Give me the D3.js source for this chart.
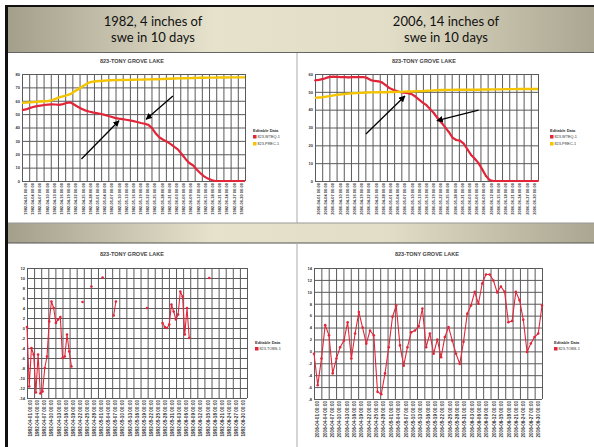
<!DOCTYPE html>
<html>
<head>
<meta charset="utf-8">
<script src="https://cdn.jsdelivr.net/npm/d3@7"></script>
<style>
body { margin: 0; background: #fff; }
svg { display: block; font-family: "Liberation Sans", Arial, sans-serif; }
</style>
</head>
<body>
<svg id="slide" width="594" height="447"></svg>
<script>
// ---- data ----
var headLeft = ["1982, 4 inches of", "swe in 10 days"];
var headRight = ["2006, 14 inches of", "swe in 10 days"];
var stationTitle = "823-TONY GROVE LAKE";
var legendTitle = "Editable Data";

// category labels (every 3 days)
var monthDays = ["04-01","04-04","04-07","04-10","04-13","04-16","04-19","04-22","04-25","04-28",
  "05-01","05-04","05-07","05-10","05-13","05-16","05-19","05-22","05-25","05-28","05-31",
  "06-03","06-06","06-09","06-12","06-15","06-18","06-21","06-24","06-27","06-30"];
var labels1982 = monthDays.map(function(d){ return "1982-" + d + " 00:00"; });
var labels2006 = monthDays.map(function(d){ return "2006-" + d + " 00:00"; });

var wteq1982 = [53, 53.5, 54.5, 55.3, 56, 56.4, 56.8, 57.1, 57.3, 57.2,
  56.9, 57.5, 58.3, 58.8, 57.2, 55.5, 54, 52.8, 52, 51.3,
  50.8, 50.3, 49.6, 48.8, 48, 47.2, 46.6, 46.2, 45.8, 45.3,
  44.8, 44.1, 43.4, 42.8, 42, 39.5, 35.5, 32.5, 30.8, 29.4,
  27.6, 25.5, 23.5, 20, 16.5, 13.5, 11.8, 8.6, 5.8, 3.5,
  1.8, 0.7, 0, 0, 0, 0, 0, 0, 0, 0, 0];
var prec1982 = [58.5, 58.6, 58.8, 59, 59.2, 59.4, 59.6, 59.8, 60.3, 61.4,
  62.5, 63.3, 64, 64.9, 66.8, 68.5, 70.2, 72, 73.6, 74.2,
  74.6, 74.8, 75, 75.2, 75.3, 75.4, 75.5, 75.5, 75.6, 75.6,
  75.7, 75.8, 75.8, 75.9, 76, 76, 76.1, 76.2, 76.3, 76.4,
  76.5, 76.6, 76.7, 76.8, 76.8, 76.9, 77, 77.1, 77.2, 77.2,
  77.3, 77.3, 77.3, 77.4, 77.4, 77.4, 77.5, 77.5, 77.5, 77.5, 77.5];
var wteq2006 = [56.4, 56.7, 57.1, 57.8, 58.4, 58.5, 58.4, 58.3, 58.2, 58.1,
  58.2, 58.3, 58.3, 58.3, 57.8, 56.6, 56.1, 55.9, 55.3, 53.8,
  52.2, 51.2, 50.4, 49.8, 49.6, 49.3, 48.7, 47.4, 45.6, 44,
  42.5, 40.3, 38, 35.2, 32.8, 30.2, 27.5, 24.3, 23, 22.6,
  21, 17.8, 14.6, 12.5, 10, 6.5, 2.8, 0.5, 0, 0,
  0, 0, 0, 0, 0, 0, 0, 0, 0, 0, 0];
var prec2006 = [46.6, 46.8, 47, 47.3, 47.6, 48, 48.4, 48.6, 48.8, 49,
  49.2, 49.3, 49.4, 49.5, 49.6, 49.7, 49.7, 49.8, 49.8, 49.8,
  49.9, 49.9, 50, 50, 50.1, 50.2, 50.2, 50.3, 50.4, 50.4,
  50.6, 50.7, 50.8, 50.9, 51, 51, 51.1, 51.1, 51.2, 51.2,
  51.2, 51.2, 51.2, 51.2, 51.2, 51.3, 51.3, 51.3, 51.4, 51.4,
  51.4, 51.5, 51.5, 51.5, 51.5, 51.6, 51.6, 51.6, 51.6, 51.6, 51.6];

var tobs1982 = [0.2, -11.7, -4, -5.3, -12.9, -5.3, -13.1, -12.7, -8, -5.7,
  1.3, 5.3, 4, 1, 1.7, 2.2, -6, -5.7, -1.3, -4.7, -7.7,
  null, null, null, null, 5.2, null, null, null, 8.3,
  null, null, null, null, 10.1, null, null, null, null, 2.5, 5.3,
  null, null, null, null, null, null, null, null, null, null, null, null, null,
  4, null, null, null, null, null, null,
  1, 0.2, 0, 0.7, 4.7, 3.3, 1.7, 2.7, 7.3, 6.3, -1.3, 4, -2,
  null, null, null, null, null, null, null, null, 10,
  null, null, null, null, null, null, null, null, null, null, null, null, null, null, null, null, null];
var tobs2006 = [-0.4, -5.7, -1.2, 4.4, 2.7, -3.7, -1.2, 0.7, 1.8, 4.9,
  -1.2, 3, 6.6, 4, 1.3, 3.5, 2.7, -6.8, -7.2, -3.7,
  0.7, 5.8, 7.7, 1, -2.4, 0.7, 3.2, 3.5, 4.2, 7.2,
  0.7, 3, -0.4, 2, -1, 2.4, 4.1, 1.8, -0.4, -2.1,
  1.6, 6.3, 7.7, 10, 8, 11.4, 12.9, 12.9, 11.9, 9.9,
  10.9, 10, 4.9, 5.1, 10, 8.6, 5.3, -0.1, 1.3, 2.4, 3, 7.7];

var RED = "#e2263a", YELLOW = "#f4c400";

var svg = d3.select("#slide");
var defs = svg.append("defs");

// band gradient (dark - light - dark)
var grad = defs.append("linearGradient").attr("id", "band").attr("x1", "0").attr("x2", "1");
grad.append("stop").attr("offset", "0").attr("stop-color", "#a39f8b");
grad.append("stop").attr("offset", "0.35").attr("stop-color", "#e6e2cc");
grad.append("stop").attr("offset", "0.65").attr("stop-color", "#e2ddc6");
grad.append("stop").attr("offset", "1").attr("stop-color", "#aaa691");

defs.append("marker").attr("id", "arrow")
  .attr("viewBox", "0 0 10 10").attr("refX", 9).attr("refY", 5)
  .attr("markerWidth", 5).attr("markerHeight", 5).attr("orient", "auto")
  .append("path").attr("d", "M0,0 L10,5 L0,10 z").attr("fill", "#000");

// slide frame
svg.append("rect").attr("x", 8).attr("y", 7).attr("width", 586).attr("height", 45).attr("fill", "url(#band)");
svg.append("rect").attr("x", 8).attr("y", 223).attr("width", 586).attr("height", 20).attr("fill", "url(#band)");
svg.append("line").attr("x1", 8).attr("x2", 594).attr("y1", 52.5).attr("y2", 52.5).attr("stroke", "#666");
svg.append("line").attr("x1", 8).attr("x2", 594).attr("y1", 223).attr("y2", 223).attr("stroke", "#999");
svg.append("line").attr("x1", 8).attr("x2", 594).attr("y1", 243).attr("y2", 243).attr("stroke", "#555");
svg.append("rect").attr("x", 5).attr("y", 5).attr("width", 589).attr("height", 2).attr("fill", "#111");
svg.append("rect").attr("x", 5).attr("y", 5).attr("width", 3).attr("height", 442).attr("fill", "#111");
[[53, 223], [243, 447]].forEach(function(r){
  svg.append("line").attr("x1", 297).attr("x2", 297).attr("y1", r[0]).attr("y2", r[1]).attr("stroke", "#aaa");
});

[[headLeft, 153], [headRight, 446]].forEach(function(h){
  svg.append("text").attr("x", h[1]).attr("y", 26).attr("text-anchor", "middle")
    .attr("font-family", "Lato, 'Open Sans', sans-serif").attr("font-size", 13).attr("fill", "#111")
    .text(h[0][0]);
  svg.append("text").attr("x", h[1]).attr("y", 42).attr("text-anchor", "middle")
    .attr("font-family", "Lato, 'Open Sans', sans-serif").attr("font-size", 13).attr("fill", "#111")
    .text(h[0][1]);
});

function drawChart(c) {
  var g = svg.append("g");
  var n = c.series[0].values.length;
  var x = d3.scaleLinear().domain([0, n - 1]).range([c.x0, c.x1]);
  var xb = d3.scaleBand().domain(c.labels).range([c.x0, c.x1]);
  var xg = d3.scaleLinear().domain([0, c.labels.length]).range([c.x0, c.x1]);
  var y = d3.scaleLinear().domain([c.yMin, c.yMax]).range([c.y1, c.y0]);

  g.append("text").attr("x", c.tx).attr("y", c.ty).attr("text-anchor", "middle")
    .attr("font-size", 5.5).attr("font-weight", "bold").attr("fill", "#444").text(stationTitle);

  // horizontal grid + y labels
  g.append("g").attr("transform", "translate(" + c.x0 + ",0)")
    .call(d3.axisLeft(y).tickValues(d3.range(c.yMin, c.yMax + 0.01, c.yStep))
      .tickSize(-(c.x1 - c.x0)).tickPadding(2).tickFormat(function(d){ return String(d); }))
    .call(function(s){
      s.select(".domain").remove();
      s.selectAll("line").attr("stroke", "#5a5a5a").attr("stroke-width", 1);
      s.selectAll("text").attr("font-size", 4).attr("font-weight", "bold").attr("fill", "#333");
    });

  // vertical grid at category boundaries
  g.append("g").attr("transform", "translate(0," + c.y1 + ")")
    .call(d3.axisBottom(xg).tickValues(d3.range(c.labels.length + 1)).tickSize(-(c.y1 - c.y0)).tickFormat(""))
    .call(function(s){
      s.select(".domain").remove();
      s.selectAll("line").attr("stroke", "#5a5a5a").attr("stroke-width", 1);
    });

  // x labels
  g.append("g").attr("transform", "translate(0," + c.y1 + ")")
    .call(d3.axisBottom(xb).tickSize(0))
    .call(function(s){
      s.select(".domain").remove();
      s.selectAll("text").attr("transform", "rotate(-90)").attr("text-anchor", "end")
        .attr("x", -2).attr("y", 0).attr("dy", "0.35em")
        .attr("font-size", c.labelSize).attr("font-weight", "bold").attr("fill", "#333");
    });

  var line = d3.line().defined(function(d){ return d !== null; })
    .x(function(d, i){ return x(i); }).y(function(d){ return y(d); });

  c.series.forEach(function(s){
    g.append("path").datum(s.values).attr("fill", "none").attr("stroke", s.color)
      .attr("stroke-width", s.width).attr("stroke-linejoin", "round").attr("d", line);
    if (s.dot) {
      g.append("g").selectAll("circle")
        .data(s.values.map(function(v, i){ return [i, v]; }).filter(function(d){ return d[1] !== null; }))
        .enter().append("circle")
        .attr("cx", function(d){ return x(d[0]); })
        .attr("cy", function(d){ return y(d[1]); })
        .attr("r", s.dot).attr("fill", s.color);
    }
  });

  // legend
  var lg = g.append("g").attr("transform", "translate(" + c.lx + "," + c.ly + ")");
  lg.append("text").attr("x", 0).attr("y", 0).attr("font-size", 4).attr("font-weight", "bold")
    .attr("fill", "#333").text(legendTitle);
  c.series.forEach(function(s, i){
    lg.append("rect").attr("x", 0).attr("y", 3 + i * 7).attr("width", 3.5).attr("height", 3.5).attr("fill", s.color);
    lg.append("text").attr("x", 4.5).attr("y", 6.3 + i * 7).attr("font-size", 3.8).attr("fill", "#333").text(s.name);
  });

  // arrows (in data units)
  (c.arrows || []).forEach(function(a){
    g.append("line")
      .attr("x1", x(a[0][0])).attr("y1", y(a[0][1]))
      .attr("x2", x(a[1][0])).attr("y2", y(a[1][1]))
      .attr("stroke", "#000").attr("stroke-width", 1.3).attr("marker-end", "url(#arrow)");
  });
}

drawChart({
  x0: 22, x1: 245, y0: 74, y1: 181, yMin: 0, yMax: 80, yStep: 10,
  tx: 132, ty: 63, lx: 253, ly: 132, labelSize: 4, labels: labels1982,
  series: [
    { name: "823-WTEQ-1", values: wteq1982, color: RED, width: 2.2 },
    { name: "823-PREC-1", values: prec1982, color: YELLOW, width: 2.4 }
  ],
  arrows: [[[16, 16.5], [26.1, 45.1]], [[40.6, 63.6], [33.4, 46.1]]]
});
drawChart({
  x0: 315, x1: 538, y0: 74, y1: 181, yMin: 0, yMax: 60, yStep: 10,
  tx: 424, ty: 63, lx: 550, ly: 132, labelSize: 4, labels: labels2006,
  series: [
    { name: "823-WTEQ-1", values: wteq2006, color: RED, width: 2.2, dot: 0.9 },
    { name: "823-PREC-1", values: prec2006, color: YELLOW, width: 2.4 }
  ],
  arrows: [[[13.7, 26.4], [24.2, 47.7]], [[44, 39.8], [32.8, 33.8]]]
});
drawChart({
  x0: 27, x1: 247, y0: 268, y1: 398, yMin: -14, yMax: 12, yStep: 2,
  tx: 132, ty: 256, lx: 255, ly: 344, labelSize: 4.6, labels: labels1982,
  series: [
    { name: "823-TOBS-1", values: tobs1982, color: RED, width: 1.1, dot: 1.3 }
  ]
});
drawChart({
  x0: 314, x1: 542, y0: 268, y1: 399, yMin: -8, yMax: 14, yStep: 2,
  tx: 427, ty: 256, lx: 554, ly: 344, labelSize: 4.6, labels: labels2006,
  series: [
    { name: "823-TOBS-1", values: tobs2006, color: RED, width: 1.1, dot: 1.3 }
  ]
});
</script>
</body>
</html>
